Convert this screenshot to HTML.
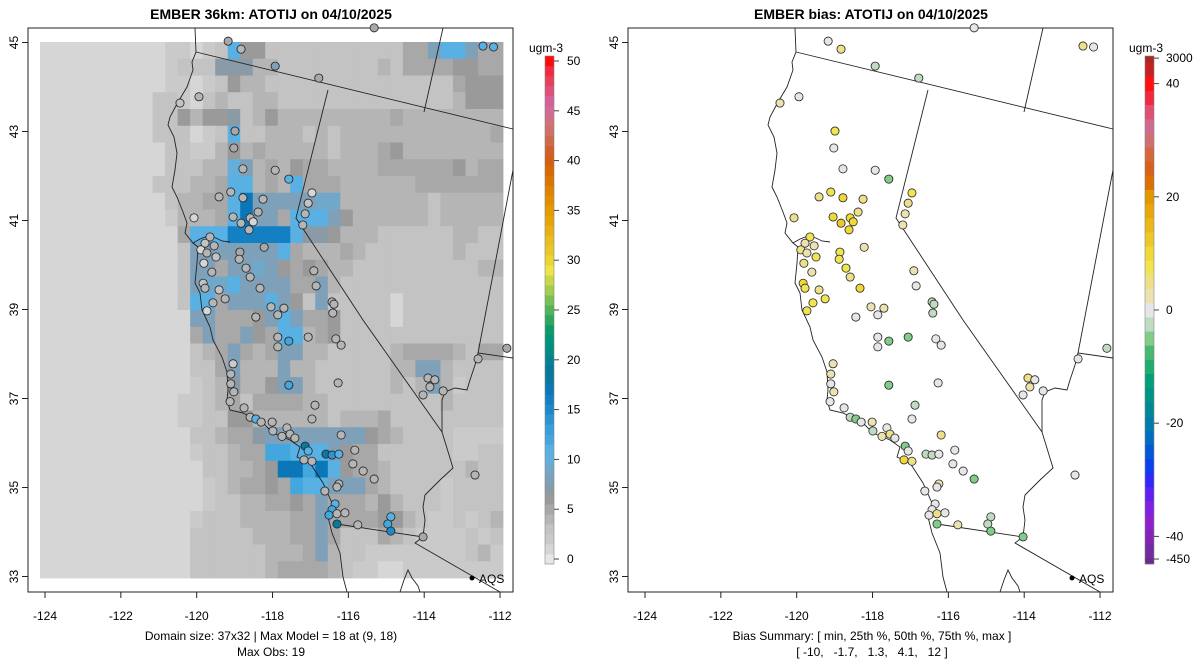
<!DOCTYPE html>
<html><head><meta charset="utf-8"><style>
body{margin:0;background:#fff;}
svg{display:block;font-family:"Liberation Sans",sans-serif;}
</style></head><body>
<svg id="s" width="1200" height="672" xmlns="http://www.w3.org/2000/svg">
<text x="271" y="19" text-anchor="middle" font-weight="bold" font-size="14">EMBER 36km: ATOTIJ on 04/10/2025</text>
<text x="871" y="19" text-anchor="middle" font-weight="bold" font-size="14">EMBER bias: ATOTIJ on 04/10/2025</text>
<text x="271" y="640" text-anchor="middle" font-size="12">Domain size: 37x32 | Max Model = 18 at (9, 18)</text>
<text x="271" y="656" text-anchor="middle" font-size="12">Max Obs: 19</text>
<text x="872" y="640" text-anchor="middle" font-size="12">Bias Summary: [ min, 25th %, 50th %, 75th %, max ]</text>
<text x="872" y="656" text-anchor="middle" font-size="12" xml:space="preserve">[ -10,   -1.7,   1.3,   4.1,   12 ]</text>
<text x="546" y="52" text-anchor="middle" font-size="12">ugm-3</text>
<text x="1146" y="52" text-anchor="middle" font-size="12">ugm-3</text>
</svg>
<script>
// ---- data ----
const gridRows = [
"111111111122123b6633333333333558bb855",
"1111111111233377744333333334355556655",
"1111111111221236443333333333333335666",
"1111111113321343344333333333333334666",
"1111111113364667346444444444544444444",
"111111111333123b3344434344444444444454",
"1111111111332246454444434445644444444",
"111111111133344a84546554444555555 6455",
"111111111333445bb454b55544444 45555555",
"111111111134455bh888889944444443 44444",
"111111111124445bh885bbb86444444344444",
"111111111115bbbgggggb7764443333334433",
"111111111113888888 8b54445433333334333",
"111111111113885889865654433333333334 4",
"11111111111389 9b88885584 3333333333333",
"11111111111 3bb5888b8638333331 33333333",
"1111111111118855568b855633331 33333333",
"111111111111585586 5bb4563333333333333",
"1111111111113458545884433333 455554355",
"111111111111335844484433333344884 3333",
"1111111111112347446884333333434842333",
"1111111111122345355554433333333343333",
"1111111111122336644444434445333333333",
"111111111111334557888888886543333 2222",
"111111111111233455ccbbb865533333322 33",
"1111111111111334456hhchb65543333334 33",
"11111111111112345565cbb8885433332 3333",
"11111111111112334455658555464333 23333",
"1111111111112333444455855556643223234",
"1111111111113333344455853335432222323",
"1111111111113333334445843322222222342",
"1111111111113333334555543221122222222"
];
const stationLon=[-119.17,-118.83,-117.93,-116.78,-115.32,-120.44,-119.94,-118.99,-119.02,-118.78,-117.93,-117.57,-119.41,-119.10,-118.78,-118.25,-116.96,-117.06,-117.14,-117.20,-118.38,-119.04,-118.83,-118.59,-118.51,-118.62,-120.07,-119.65,-119.54,-119.78,-119.89,-119.73,-119.49,-119.81,-119.60,-118.86,-118.88,-118.22,-118.70,-118.59,-118.33,-119.41,-119.83,-119.78,-119.25,-119.57,-119.73,-118.04,-117.70,-118.44,-117.86,-116.91,-116.85,-116.43,-116.38,-116.41,-117.86,-117.57,-117.86,-117.06,-116.33,-116.19,-119.04,-119.10,-119.10,-119.02,-119.12,-117.57,-116.27,-118.75,-116.88,-116.96,-118.59,-118.44,-118.30,-118.01,-117.99,-117.62,-117.54,-117.75,-117.41,-116.19,-117.14,-117.06,-117.17,-116.96,-116.59,-116.43,-116.25,-115.83,-115.88,-115.61,-115.32,-116.25,-116.30,-116.62,-116.35,-116.43,-116.30,-116.09,-116.51,-116.30,-115.75,-114.88,-114.96,-114.88,-114.03,-112.66,-113.90,-113.72,-113.85,-114.03,-113.50,-112.58,-111.82,-112.45,-112.17];
const stationLat=[45.03,44.85,44.47,44.20,45.33,43.64,43.78,43.01,42.63,42.16,42.13,41.93,41.53,41.64,41.51,41.48,41.62,41.39,41.15,40.90,41.19,41.08,40.94,41.06,40.97,40.79,41.06,40.63,40.43,40.49,40.34,40.27,40.18,40.04,39.84,40.29,40.13,40.40,39.93,39.73,39.48,39.44,39.59,39.48,39.24,39.15,38.97,39.06,39.03,38.83,38.88,39.87,39.53,39.17,39.12,38.92,38.38,38.29,38.16,38.38,38.34,38.20,37.78,37.55,37.33,37.15,36.93,37.30,37.35,36.79,36.85,36.54,36.58,36.54,36.47,36.47,36.27,36.34,36.20,36.15,36.11,36.18,35.93,35.82,35.62,35.59,35.75,35.73,35.75,35.84,35.53,35.37,35.19,35.08,35.01,34.92,34.63,34.50,34.41,34.43,34.38,34.18,34.16,34.34,34.18,34.02,33.89,35.28,37.46,37.42,37.26,37.08,37.17,37.89,38.13,44.92,44.90];
const stationObs=[5,4,8,5,5,3,4,5,5,4,4,11,4,4,4,4,1,3,4,4,4,4,4,4,1,4,1,4,4,3,1,4,3,1,4,5,4,5,4,4,4,3,3,4,4,4,1,4,4,4,4,4,4,4,4,4,4,12,4,4,4,4,2,4,4,4,4,12,4,4,4,4,4,11,4,4,4,4,4,4,4,4,18,11,4,4,18,14,11,4,4,4,4,4,4,4,11,12,4,4,12,18,4,11,12,15,5,4,4,4,4,4,4,4,5,11,11];
const stationBias=[0,4,-3,-3,0,3,0,8,0,0,0,-5,4,7,10,5,8,4,3,3,4,11,12,10,11,10,5,7,3,2,6,3,7,5,3,8,8,3,7,5,9,4,11,8,7,7,8,3,3,0,0,3,0,-2,-2,-3,0,-4,0,-4,0,0,3,3,0,3,0,-4,0,0,-3,0,-3,-5,0,3,-2,0,5,3,0,6,-6,0,10,4,-3,-3,0,0,0,0,-5,3,0,0,0,0,4,0,0,-6,3,-3,-3,-6,-5,0,5,0,2,0,0,0,-3,4,0];
const xTicks=[-124,-122,-120,-118,-116,-114,-112];
const yTicks=[45,43,41,39,37,35,33];
const modelBarTicks=[0,5,10,15,20,25,30,35,40,45,50];
const biasBarTickValues=[44.5,40,20,0,-20,-40,-44];
const biasBarTickLabels=["3000","40","20","0","-20","-40","-450"];
// ---- styles ----
const modelPal=["#e6e6e6","#d6d6d6","#cacaca","#c3c3c3","#b5b5b5","#a8a8a8","#9a9a9a","#8a9aa6","#7ea0b8","#71a7c8","#63aedb","#58b0e3","#43a6df","#3a9ed9","#2d94d2","#1f88ca","#1380c3","#0b76b8","#0a78a0","#08789a","#058290","#028c84","#009478","#0a9c68","#2aa860","#50b55a","#78c055","#a4cc50","#c8d84a","#eee44a","#ecd432","#ebc82a","#eabd20","#e8b010","#e6a506","#e49a00","#e28e00","#df8200","#dc7400","#d86800","#d45f10","#d06028","#ce6a48","#cf7068","#d07080","#d46a98","#d8609a","#e0507a","#e8405a","#f02a40","#ff0a0a"];
const biasNeg=["#6a2a8a","#742aa0","#8424b4","#9020cc","#8020e0","#6020f0","#3028f8","#0a40f0","#0058d8","#006ec0","#007ca8","#008898","#009488","#00a078","#20ac70","#48b870","#80cc88","#c0dcc0"];
const biasPos=["#ece2b0","#eee088","#f0e450","#f0d838","#eec828","#ecb818","#e8a808","#e49800","#dc7000","#d86018","#d46838","#cf7070","#d06a90","#e05070","#f02840","#ff1010","#c82020","#a82828"];
const NS="http://www.w3.org/2000/svg";
const svg=document.getElementById('s');
function mk(tag,attrs,parent){const e=document.createElementNS(NS,tag);for(const k in attrs)e.setAttribute(k,attrs[k]);(parent||svg).appendChild(e);return e;}
const xS=lon=>45+(lon+124)*37.92;
const yS=lat=>42.5+(45-lat)*44.5;
function biasColor(v){const i=Math.round(v/2.5);if(i===0)return"#e6e6e6";if(i>0)return biasPos[Math.min(i,18)-1];return biasNeg[18-Math.min(-i,18)];}
const GX0=40,GX1=503,GY0=42,GY1=578,NC=37,NR=32;
const cw=(GX1-GX0)/NC,ch=(GY1-GY0)/NR;
const mapPaths=[
"M195,28 L196,52 L192,62 L193,70 L187,87 L178,102 L170,117 L168,125 L174,137 L177,153 L175,170 L172,187 L177,197 L183,212 L187,223 L185,233 L193,243 L198,247 L197,263 L195,283 L200,293 L202,310 L210,327 L213,340 L222,357 L227,372 L228,390 L227,400 L230,410 L243,413 L263,423 L273,433 L290,440 L300,447 L297,457 L310,463 L323,483 L332,503 L328,517 L332,533 L340,553 L343,577 L347,592",
"M193,243 L200,239 L208,236 L216,238 L222,241 L230,242",
"M196,52 L513,129","M328,90 L296,218 L363,320 L442,432",
"M442,432 L446,445 L453,468 L440,480 L425,495 L423,507 L425,520 L423,537 L337,524",
"M423,537 L415,543 L500,592","M443,28 L424,112","M513,170 L478,353 L513,358",
"M478,353 L475,365 L470,380 L467,390 L455,388 L445,392 L442,400 L442,432",
"M400,592 L404,580 L408,570 L412,578 L418,586 L420,592"];
[0,600].forEach((off,p)=>{
  const g=mk('g',{transform:`translate(${off},0)`});
  
  
  if(p===0){
    for(let r=0;r<NR;r++){const row=gridRows[r].replace(/ /g,'').padEnd(NC,'3');
      for(let c=0;c<NC;c++){const v=parseInt(row[c],36);
        const cell=mk('rect',{x:GX0+c*cw,y:GY0+r*ch,width:cw+0.4,height:ch+0.4,fill:modelPal[v]},g);
        
        }}
  }
  mapPaths.forEach(d=>{const m=mk('path',{d:d,fill:'none',stroke:'#222','stroke-width':0.9},g);
    
    });
  const box=mk('rect',{x:28,y:28,width:485,height:564,fill:'none',stroke:'#222','stroke-width':1},g);
  
  
  xTicks.forEach(t=>{const x=xS(t);mk('line',{x1:x,x2:x,y1:592,y2:598,stroke:'#222'},g);
    const tx=mk('text',{x:x,y:620,'text-anchor':'middle','font-size':12},g);tx.textContent=t;
    
    });
  yTicks.forEach(t=>{const y=yS(t);mk('line',{x1:22,x2:28,y1:y,y2:y,stroke:'#222'},g);
    const tx=mk('text',{x:18,y:y,'text-anchor':'middle','font-size':12,transform:`rotate(-90 18 ${y})`},g);tx.textContent=t;
    
    });
  for(let i=0;i<stationLon.length;i++){
    const fill=p?biasColor(stationBias[i]):modelPal[Math.min(stationObs[i],50)];
    const d=mk('circle',{cx:xS(stationLon[i]),cy:yS(stationLat[i]),r:4.1,fill:fill,stroke:'#222','stroke-width':0.8},g);
    
    }
  mk('circle',{cx:472,cy:578,r:2.5,fill:'#000'},g);
  const aq=mk('text',{x:479,y:583,'font-size':12},g);aq.textContent='AQS';
  
  
});
// left colorbar
const cb=mk('g',{});


const cbTop=56,cbBot=564,segH=(cbBot-cbTop)/51;
for(let v=0;v<=50;v++){mk('rect',{x:545,y:cbBot-(v+1)*segH,width:9,height:segH+0.3,fill:modelPal[v]},cb);}
mk('rect',{x:545,y:cbTop,width:9,height:cbBot-cbTop,fill:'none',stroke:'#888','stroke-width':0.6},cb);
modelBarTicks.forEach(v=>{const y=cbBot-(v+0.5)*segH;mk('line',{x1:554,x2:559,y1:y,y2:y,stroke:'#444'},cb);
  const t=mk('text',{x:567,y:y+4,'font-size':12},cb);t.textContent=v;
  
  });
// right colorbar
const rb=mk('g',{});


const bY=v=>310-v*5.66;
for(let i=-18;i<=18;i++){const y0=bY((i+0.5)*2.5),y1=bY((i-0.5)*2.5);
  mk('rect',{x:1145,y:Math.max(y0,cbTop),width:9,height:Math.min(y1,cbBot)-Math.max(y0,cbTop)+0.3,fill:biasColor(i*2.5)},rb);}
mk('rect',{x:1145,y:cbTop,width:9,height:cbBot-cbTop,fill:'none',stroke:'#888','stroke-width':0.6},rb);
biasBarTickValues.forEach((v,i)=>{const y=bY(v);mk('line',{x1:1154,x2:1159,y1:y,y2:y,stroke:'#444'},rb);
  const t=mk('text',{x:1166,y:y+4,'font-size':12},rb);t.textContent=biasBarTickLabels[i];
  
  });
</script>
</body></html>
